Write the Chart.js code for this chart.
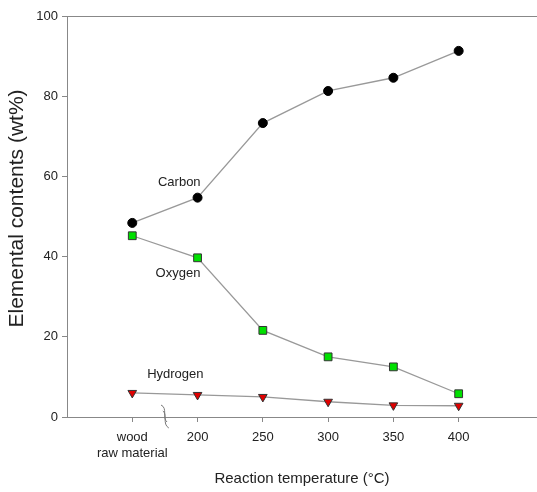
<!DOCTYPE html>
<html>
<head>
<meta charset="utf-8">
<script src="https://cdn.jsdelivr.net/npm/chart.js@4/dist/chart.umd.min.js"></script>
<style>
  html, body { margin: 0; padding: 0; background: #fff; }
  #wrap { width: 537px; height: 492px; }
</style>
</head>
<body>
<div id="wrap"><canvas id="chart"></canvas></div>
<script>
// reaction temperatures; 150 stands for the wood raw material
const temps = [150, 200, 250, 300, 350, 400];
const tickLabels = [["wood", "raw material"], "200", "250", "300", "350", "400"];
const carbon = [48.4, 54.7, 73.3, 81.3, 84.6, 91.3];
const oxygen = [45.2, 39.7, 21.6, 15.0, 12.5, 5.8];
const hydrogen = [6.0, 5.5, 5.0, 3.8, 2.9, 2.8];
const seriesNames = ["Carbon", "Oxygen", "Hydrogen"];
const nameSpots = [[186, 58.5], [185, 35.8], [183, 10.6]];
const yTitle = "Elemental contents (wt%)";

const font = "'Liberation Sans', Arial, sans-serif";
Chart.defaults.font.family = font;
Chart.defaults.color = "#222";

function pts(vals) {
  return temps.map((t, i) => ({ x: t, y: vals[i] }));
}

const extras = {
  id: "extras",
  afterDraw(chart) {
    const c = chart.ctx, x = chart.scales.x, y = chart.scales.y, a = chart.chartArea;
    c.save();
    // top frame line
    c.strokeStyle = "#888";
    c.lineWidth = 1;
    c.beginPath();
    c.moveTo(a.left, a.top + 0.5);
    c.lineTo(a.right, a.top + 0.5);
    c.stroke();
    // series names
    c.fillStyle = "#222";
    c.font = "13px " + font;
    c.textAlign = "center";
    c.textBaseline = "middle";
    seriesNames.forEach((n, i) => {
      c.fillText(n, x.getPixelForValue(nameSpots[i][0]), y.getPixelForValue(nameSpots[i][1]));
    });
    // y axis title, a little above the middle as in the original
    c.save();
    c.translate(17, y.getPixelForValue(52));
    c.rotate(-Math.PI / 2);
    c.font = "21px " + font;
    c.fillText(yTitle, 0, 0);
    c.restore();
    // axis break mark
    const bx = x.getPixelForValue(175), by = y.getPixelForValue(0);
    c.strokeStyle = "#777";
    c.lineWidth = 1;
    [-3, 3].forEach(d => {
      c.beginPath();
      c.moveTo(bx - 3 + d * 0.3, by - 9 + d);
      c.bezierCurveTo(bx + 3, by - 6 + d, bx - 3, by + 4 + d, bx + 3 + d * 0.3, by + 8 + d);
      c.stroke();
    });
    c.restore();
  }
};

new Chart(document.getElementById("chart"), {
  type: "line",
  data: {
    datasets: [
      {
        label: "Carbon",
        data: pts(carbon),
        borderColor: "#999",
        borderWidth: 1.3,
        pointStyle: "circle",
        pointRadius: 4.5,
        pointBackgroundColor: "#000",
        pointBorderColor: "#000",
        pointBorderWidth: 1,
      },
      {
        label: "Oxygen",
        data: pts(oxygen),
        borderColor: "#999",
        borderWidth: 1.3,
        pointStyle: "rect",
        pointRadius: 5.5,
        pointBackgroundColor: "#00e000",
        pointBorderColor: "#333",
        pointBorderWidth: 1,
      },
      {
        label: "Hydrogen",
        data: pts(hydrogen),
        borderColor: "#999",
        borderWidth: 1.3,
        pointStyle: "triangle",
        rotation: 180,
        pointRadius: 5,
        pointBackgroundColor: "#e00000",
        pointBorderColor: "#333",
        pointBorderWidth: 1,
      },
    ],
  },
  options: {
    responsive: true,
    maintainAspectRatio: false,
    animation: false,
    layout: { autoPadding: false, padding: { top: 16, right: 0, left: 0, bottom: 0 } },
    plugins: { legend: { display: false }, tooltip: { enabled: false } },
    scales: {
      x: {
        type: "linear",
        min: 100,
        max: 460,
        afterBuildTicks: (axis) => { axis.ticks = temps.map(v => ({ value: v })); },
        afterFit: (axis) => { axis.height = 75; },
        ticks: {
          autoSkip: false,
          maxRotation: 0,
          padding: 8,
          font: { size: 13 },
          callback: (v) => tickLabels[temps.indexOf(v)],
        },
        grid: { drawOnChartArea: false, tickLength: 5, color: "#888" },
        border: { color: "#888", width: 1 },
        title: { display: true, text: "Reaction temperature (°C)", font: { size: 15 }, padding: { top: 10 } },
      },
      y: {
        min: 0,
        max: 100,
        ticks: { stepSize: 20, padding: 4, font: { size: 13 } },
        afterFit: (axis) => { axis.width = 67; },
        grid: { drawOnChartArea: false, tickLength: 5, color: "#888" },
        border: { color: "#888", width: 1 },
      },
    },
  },
  plugins: [extras],
});
</script>
</body>
</html>
